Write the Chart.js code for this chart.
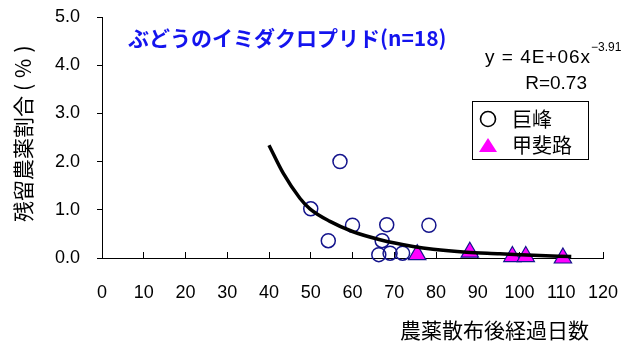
<!DOCTYPE html>
<html>
<head>
<meta charset="utf-8">
<script src="https://cdn.jsdelivr.net/npm/chart.js@4/dist/chart.umd.min.js"></script>
<style>
  html, body { margin: 0; padding: 0; background: #fff; }
  #wrap { width: 641px; height: 345px; }
</style>
</head>
<body>
<div id="wrap"><canvas id="c" width="641" height="345"></canvas></div>
<script>
// 巨峰: days after spraying / residue ratio (%)
const kyohoDays    = [50.0, 54.2, 57.0, 60.0, 66.3, 67.1, 68.2, 69.0, 72.0, 78.3];
const kyohoResidue = [1.02, 0.36, 2.00, 0.68, 0.07, 0.36, 0.69, 0.10, 0.10, 0.68];

// 甲斐路
const kaijiDays    = [75.5, 88.1, 98.3, 101.5, 110.4];
const kaijiResidue = [0.07, 0.12, 0.03, 0.03, 0.00];

// power-law trend line, sampled along the drawn curve
const fitDays    = [40.0, 43.4, 47.4, 49.8, 54.6, 60.0, 66.6, 74.5, 79.3, 87.3, 95.3, 103.3, 112.4];
const fitResidue = [2.34, 1.76, 1.24, 1.02, 0.76, 0.55, 0.38, 0.24, 0.18, 0.12, 0.09, 0.055, 0.03];

const xTickValues = [0, 10, 20, 30, 40, 50, 60, 70, 80, 90, 100, 110, 120];
const yTickValues = [0, 1, 2, 3, 4, 5];

const seriesNames = ['巨峰', '甲斐路'];
const chartTitle  = 'ぶどうのイミダクロプリド(n=18)';
const xTitle      = '農薬散布後経過日数';
const yTitleMain  = '残留農薬割合';
const yTitleUnit  = '(%)';
const fitEquation = 'y = 4E+06x';
const fitExponent = '\u22123.91';
const fitR        = 'R=0.73';

const toPoints = (xs, ys) => xs.map((x, i) => ({ x, y: ys[i] }));

const NUM_FONT = '"Liberation Sans", Arial, sans-serif';
const JP_FONT  = '"Noto Sans CJK JP", sans-serif';

// Texts, legend box and axis titles drawn over the chart
const notes = {
  id: 'notes',
  afterDraw(chart) {
    const ctx = chart.ctx;
    ctx.save();

    // chart title
    ctx.fillStyle = '#1414EE';
    ctx.font = 'bold 21px ' + JP_FONT;
    ctx.textAlign = 'left';
    ctx.textBaseline = 'middle';
    ctx.fillText(chartTitle, 128, 38);

    // trend equation
    ctx.fillStyle = '#000';
    ctx.textBaseline = 'alphabetic';
    ctx.font = '19px ' + NUM_FONT;
    ctx.letterSpacing = '1px';
    ctx.fillText(fitEquation, 485, 63);
    ctx.letterSpacing = '0px';
    ctx.font = '12px ' + NUM_FONT;
    ctx.fillText(fitExponent, 591, 51);
    ctx.font = '19px ' + NUM_FONT;
    ctx.textAlign = 'right';
    ctx.fillText(fitR, 587, 89);

    // legend
    ctx.fillStyle = '#fff';
    ctx.fillRect(472.5, 101.5, 116, 58);
    ctx.strokeStyle = '#000';
    ctx.lineWidth = 1;
    ctx.strokeRect(472.5, 101.5, 116, 58);

    ctx.beginPath();
    ctx.arc(488, 119, 7.5, 0, Math.PI * 2);
    ctx.lineWidth = 1.6;
    ctx.strokeStyle = '#000';
    ctx.stroke();

    ctx.beginPath();
    ctx.moveTo(488, 138);
    ctx.lineTo(479, 152);
    ctx.lineTo(497, 152);
    ctx.closePath();
    ctx.fillStyle = '#FF00FF';
    ctx.fill();

    ctx.fillStyle = '#000';
    ctx.font = '20px ' + JP_FONT;
    ctx.textAlign = 'left';
    ctx.textBaseline = 'middle';
    ctx.fillText(seriesNames[0], 512, 119);
    ctx.fillText(seriesNames[1], 512, 145);

    // axis titles
    ctx.font = '21px ' + JP_FONT;
    ctx.fillText(xTitle, 400, 330);

    ctx.translate(23, 222);
    ctx.rotate(-Math.PI / 2);
    ctx.fillText(yTitleMain, 0, 0);
    const w = ctx.measureText(yTitleMain).width;
    ctx.letterSpacing = '6px';
    ctx.fillText(yTitleUnit, w + 5, 0);

    ctx.restore();
  }
};

new Chart(document.getElementById('c'), {
  type: 'scatter',
  data: {
    datasets: [
      {
        type: 'line',
        label: 'trend',
        data: toPoints(fitDays, fitResidue),
        borderColor: '#000',
        borderWidth: 3.5,
        pointRadius: 0,
        fill: false,
        cubicInterpolationMode: 'monotone',
        clip: false,
        order: 0
      },
      {
        label: seriesNames[0],
        data: toPoints(kyohoDays, kyohoResidue),
        pointStyle: 'circle',
        pointRadius: 7,
        borderWidth: 1.5,
        borderColor: '#14148C',
        backgroundColor: 'rgba(0,0,0,0)',
        clip: false,
        order: 1
      },
      {
        label: seriesNames[1],
        data: toPoints(kaijiDays, kaijiResidue),
        pointStyle: 'triangle',
        pointRadius: 10,
        borderWidth: 1.2,
        borderColor: '#14148C',
        backgroundColor: '#FF00FF',
        clip: false,
        order: 2
      }
    ]
  },
  options: {
    responsive: false,
    devicePixelRatio: 1,
    animation: false,
    layout: { padding: { left: 0, right: 38, top: 17, bottom: 0 } },
    plugins: {
      legend: { display: false },
      tooltip: { enabled: false },
      title: { display: false }
    },
    scales: {
      x: {
        type: 'linear',
        min: 0,
        max: 120,
        afterBuildTicks: (scale) => { scale.ticks = xTickValues.map(v => ({ value: v })); },
        afterFit: (scale) => {
          scale.height = 87;
          scale.paddingLeft = 0;
          scale.paddingRight = 0;
        },
        grid: { drawOnChartArea: false, drawTicks: true, tickLength: -6, color: '#000', lineWidth: 1 },
        border: { display: true, color: '#000', width: 1 },
        ticks: {
          color: '#000',
          font: { family: NUM_FONT, size: 18 },
          padding: 30,
          maxRotation: 0,
          autoSkip: false
        }
      },
      y: {
        type: 'linear',
        min: 0,
        max: 5,
        afterBuildTicks: (scale) => { scale.ticks = yTickValues.map(v => ({ value: v })); },
        afterFit: (scale) => {
          scale.width = 102;
          scale.paddingTop = 0;
          scale.paddingBottom = 0;
        },
        grid: { drawOnChartArea: false, drawTicks: true, tickLength: 5, color: '#000', lineWidth: 1 },
        border: { display: true, color: '#000', width: 1 },
        ticks: {
          color: '#000',
          font: { family: NUM_FONT, size: 18 },
          padding: 17,
          callback: (v) => Number(v).toFixed(1)
        }
      }
    }
  },
  plugins: [notes]
});
</script>
</body>
</html>
